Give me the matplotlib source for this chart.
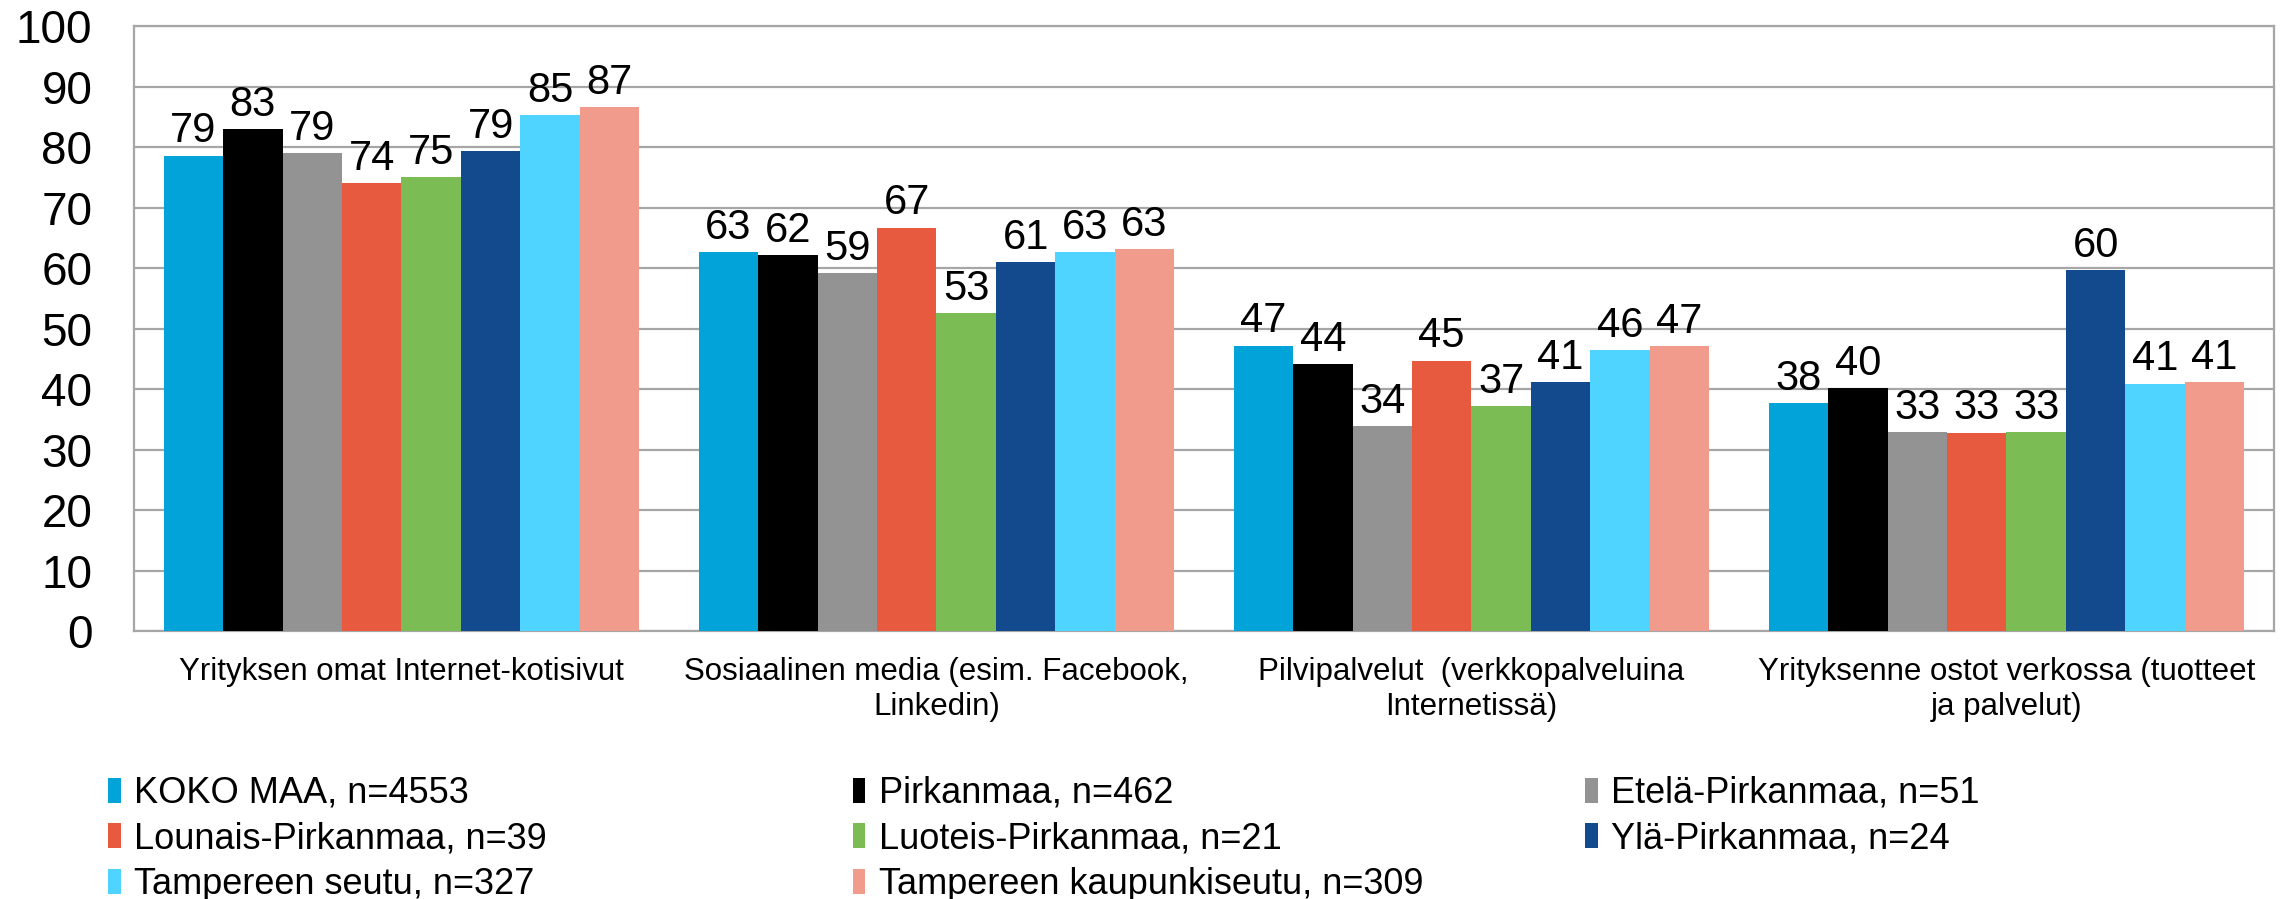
import numpy as np
import matplotlib.pyplot as plt
from matplotlib.patches import Patch

plt.rcParams['font.family'] = ['Liberation Sans', 'DejaVu Sans']

categories = [
    "Yrityksen omat Internet-kotisivut",
    "Sosiaalinen media (esim. Facebook,\nLinkedin)",
    "Pilvipalvelut  (verkkopalveluina\nInternetissä)",
    "Yrityksenne ostot verkossa (tuotteet\nja palvelut)",
]
series = [
    "KOKO MAA, n=4553",
    "Pirkanmaa, n=462",
    "Etelä-Pirkanmaa, n=51",
    "Lounais-Pirkanmaa, n=39",
    "Luoteis-Pirkanmaa, n=21",
    "Ylä-Pirkanmaa, n=24",
    "Tampereen seutu, n=327",
    "Tampereen kaupunkiseutu, n=309",
]
colors = ['#02a3d9', '#000000', '#939393', '#e85a40',
          '#7bbc55', '#134a8e', '#4fd3ff', '#f19b8c']

# values per series, one per category
koko_maa = [78.6, 62.7, 47.2, 37.7]
pirkanmaa = [83.0, 62.2, 44.2, 40.1]
etela = [79.0, 59.2, 33.9, 32.9]
lounais = [74.0, 66.7, 44.7, 32.8]
luoteis = [75.0, 52.6, 37.2, 32.9]
yla = [79.3, 61.0, 41.1, 59.7]
tre_seutu = [85.3, 62.7, 46.4, 40.9]
tre_kaupunki = [86.6, 63.2, 47.1, 41.2]
values = [koko_maa, pirkanmaa, etela, lounais, luoteis, yla, tre_seutu, tre_kaupunki]

fig = plt.figure(figsize=(22.9, 8.99), dpi=100)
ax = fig.add_axes([0.0585, 0.298, 0.9345, 0.673])

x = np.arange(len(categories))
w = 1 / 9
for i, (vals, col) in enumerate(zip(values, colors)):
    bars = ax.bar(x + (i - 3.5) * w, vals, width=w, color=col, zorder=3)
    ax.bar_label(bars, labels=[f"{v:.0f}" for v in vals], padding=3, fontsize=30)

ax.set_xlim(-0.5, 3.5)
ax.set_ylim(0, 100)
ax.set_yticks(range(0, 101, 10))
ax.tick_params(axis='y', labelsize=33, length=0, pad=30)
ax.set_xticks(x)
ax.set_xticklabels(categories, fontsize=22.5, linespacing=1.2)
ax.tick_params(axis='x', length=0, pad=19)
ax.yaxis.grid(True, color='#a6a6a6', linewidth=1.6, zorder=0)
for s in ax.spines.values():
    s.set_color('#a6a6a6')
    s.set_linewidth(1.6)

# legend: three columns, row-major order
col_x = [0.041, 0.366, 0.686]
for c in range(3):
    idx = [c, c + 3, c + 6] if c + 6 < len(series) else [c, c + 3]
    handles = [Patch(facecolor=colors[k], edgecolor='none') for k in idx]
    fig.legend(handles, [series[k] for k in idx], loc='upper left',
               bbox_to_anchor=(col_x[c], 0.153), frameon=False,
               fontsize=26, handlelength=0.35, handleheight=0.68,
               handletextpad=0.37, labelspacing=0.29, borderaxespad=0)

plt.savefig('out.png', dpi=100)
